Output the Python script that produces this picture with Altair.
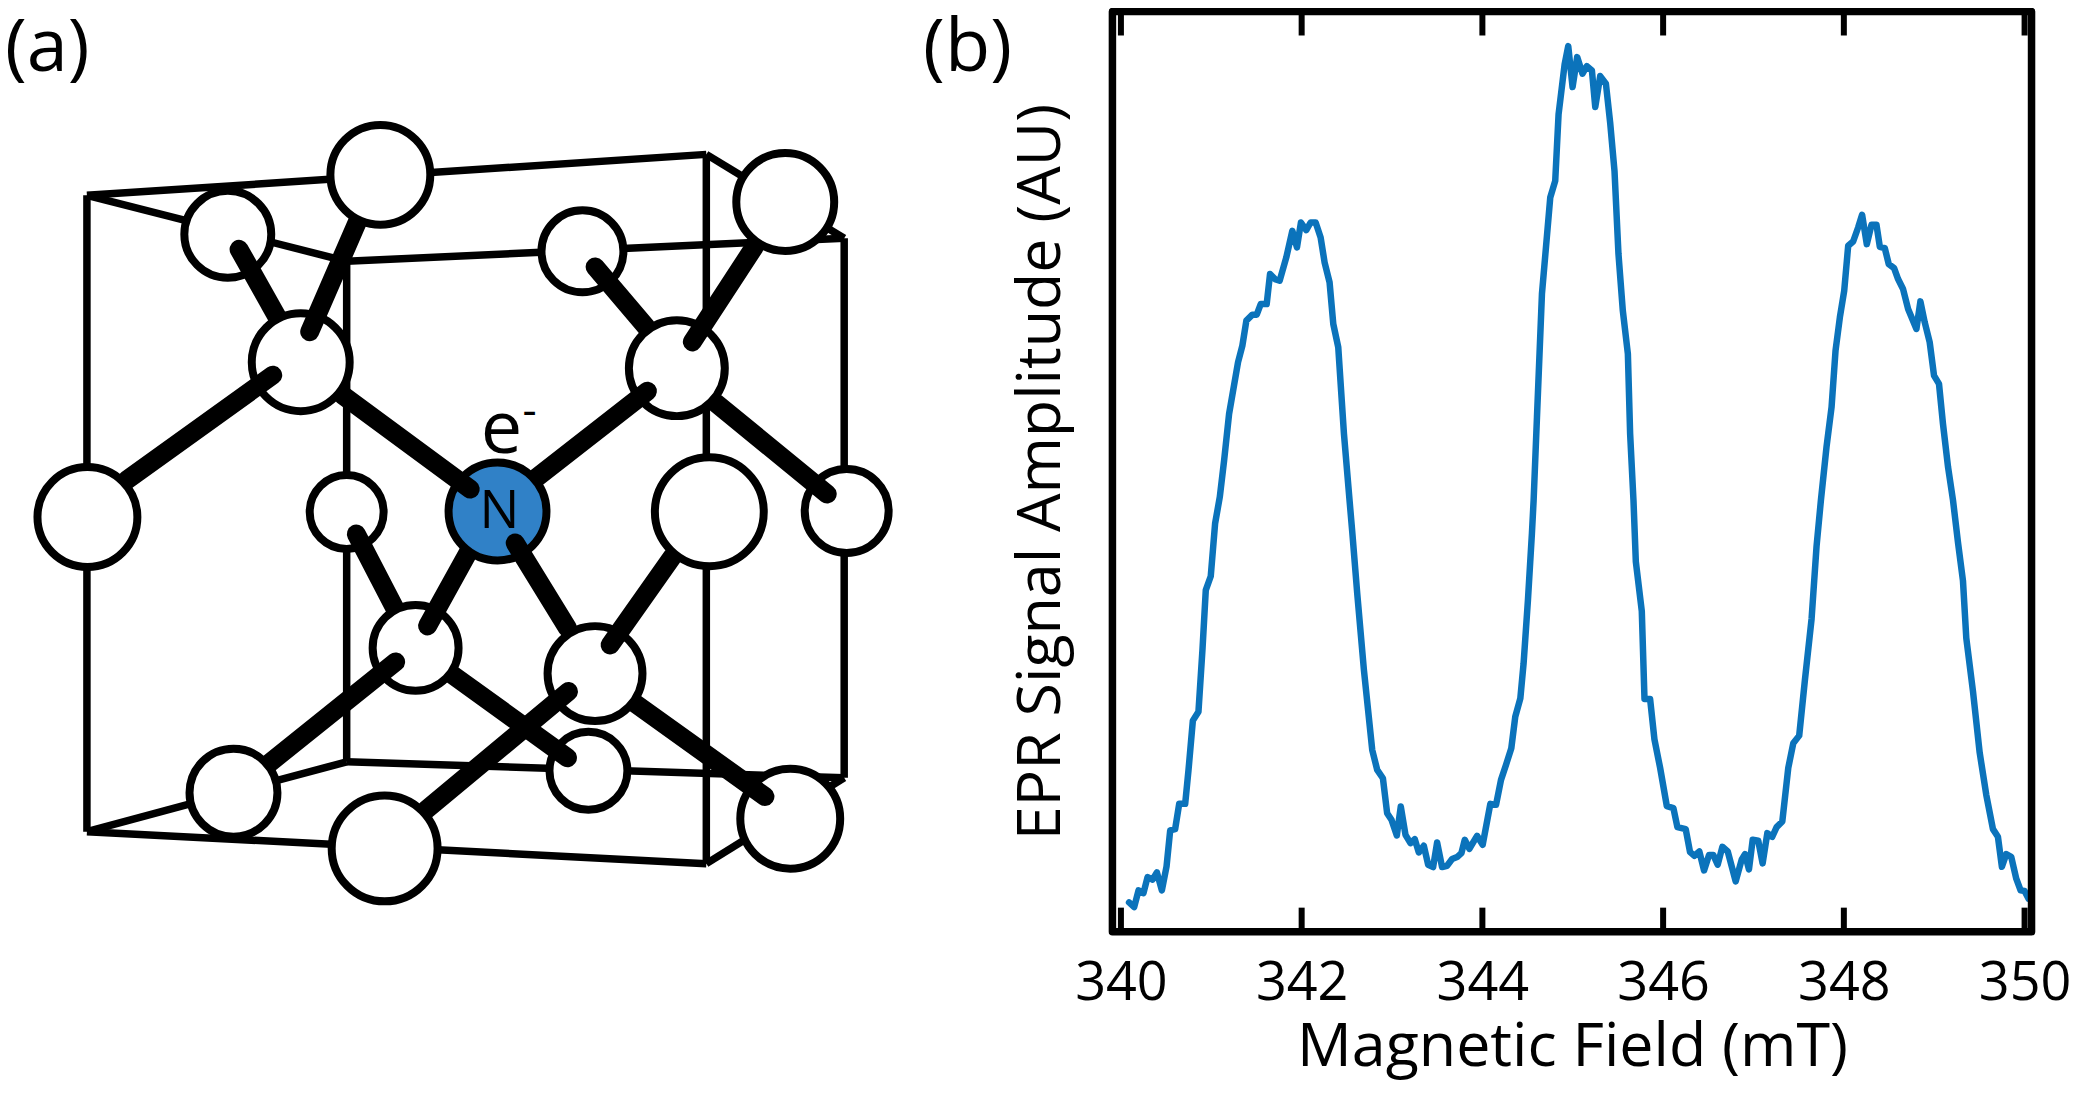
import altair as alt
import pandas as pd

# ---------- panel (b): EPR spectrum ----------
field_mT = [340.09,340.147,340.195,340.25,340.295,340.35,340.398,340.453,340.505,340.545,340.60,340.645,340.711,340.748,340.796,340.858,340.902,340.939,340.994,341.042,
341.094,341.142,341.197,341.296,341.344,341.388,341.455,341.503,341.547,341.613,341.65,341.705,341.757,341.83,341.897,341.948,341.992,342.051,342.099,342.155,342.21,342.254,342.309,342.35,342.405,342.468,342.53,
342.56,342.615,342.689,342.781,342.836,342.899,342.946,342.994,343.053,343.097,343.149,343.204,343.252,343.296,343.352,343.4,343.455,343.499,343.554,343.609,343.665,343.72,343.768,343.805,343.856,343.941,344.003,344.088,344.151,344.206,344.261,344.32,344.364,344.42,344.456,344.504,344.548,
344.567,344.604,344.659,344.751,344.806,344.843,344.91,344.95,344.998,345.049,345.108,345.156,345.212,345.249,345.304,345.367,345.414,345.462,345.506,345.554,345.61,345.635,345.672,
345.698,345.764,345.794,345.856,345.904,345.967,346.041,346.114,346.158,346.25,346.298,346.346,346.401,346.453,346.508,346.556,346.604,346.656,346.715,346.803,346.869,346.906,346.95,346.991,347.053,347.101,347.153,347.208,347.256,347.319,347.385,347.44,347.506,347.569,347.643,347.698,
347.746,347.808,347.864,347.908,347.956,348.004,348.048,348.103,348.158,348.202,348.254,348.306,348.361,348.398,348.453,348.497,348.556,348.6,348.655,348.711,348.803,348.847,348.895,348.95,348.998,349.053,349.097,349.153,349.208,
349.263,349.318,349.355,349.429,349.503,349.576,349.65,349.705,349.749,349.797,349.852,349.908,349.956,350.0,350.044]
amplitude_au = [88,74,124,116,164,156,178,124,196,304,308,384,384,486,634,661,846,1026,1068,1226,
1306,1416,1556,1711,1761,1836,1854,1854,1886,1886,1976,1961,1956,2026,2106,2056,2131,2108,2131,2131,2086,2011,1951,1826,1756,1496,1296,
1201,1016,786,546,486,461,356,336,289,376,291,266,278,238,258,201,194,268,194,198,218,224,236,276,249,288,261,384,381,456,501,551,646,701,806,996,1196,
1296,1546,1916,2206,2256,2456,2606,2661,2538,2628,2578,2601,2588,2478,2571,2548,2431,2286,2036,1866,1736,1496,1296,
1112,963,699,699,578,492,377,371,314,308,239,228,241,184,230,230,201,255,241,151,216,233,187,276,273,205,296,285,314,331,492,566,589,756,940,1158,
1296,1456,1576,1746,1846,1926,2061,2074,2116,2154,2066,2124,2124,2058,2054,2006,1994,1961,1931,1871,1811,1894,1831,1771,1671,1646,1526,1396,1296,
1170,1055,882,722,538,411,308,285,195,233,225,159,124,122,99]
x_ticks = [340, 342, 344, 346, 348, 350]
x_domain = [339.906, 350.077]
y_domain = [0, 2765]

PANEL_H = 921
BLACK = "#000000"
FONT = "Open Sans"

xs = alt.Scale(domain=x_domain, nice=False, zero=False)
ys = alt.Scale(domain=y_domain, nice=False, zero=False)

spec = pd.DataFrame({"field": field_mT, "amp": amplitude_au})
line = alt.Chart(spec).mark_line(color="#0B73BB", strokeWidth=6.5, strokeCap="round", strokeJoin="round", clip=False).encode(
    x=alt.X("field:Q", scale=xs, title="Magnetic Field (mT)",
            axis=alt.Axis(values=x_ticks, ticks=False, domain=False, grid=False, labelFont=FONT, labelFontSize=54,
                          labelColor=BLACK, labelPadding=25, titleFont=FONT, titleFontSize=61, titleFontWeight="normal",
                          titleColor=BLACK, titlePadding=7, format="d", labelFlush=False, labelOverlap=False)),
    y=alt.Y("amp:Q", scale=ys, title="EPR Signal Amplitude (AU)",
            axis=alt.Axis(labels=False, ticks=False, domain=False, grid=False, titleFont=FONT, titleFontSize=61,
                          titleFontWeight="normal", titleColor=BLACK, titlePadding=40)),
)
tick_df = pd.DataFrame({"field": x_ticks})
bottom_ticks = alt.Chart(tick_df).mark_rule(color=BLACK, strokeWidth=6).encode(
    x=alt.X("field:Q", scale=xs), y=alt.value(PANEL_H - 24), y2=alt.value(PANEL_H))
top_ticks = alt.Chart(tick_df).mark_rule(color=BLACK, strokeWidth=6).encode(
    x=alt.X("field:Q", scale=xs), y=alt.value(0), y2=alt.value(24))
frame = alt.Chart(pd.DataFrame({"x0": [x_domain[0]], "x1": [x_domain[1]], "y0": [y_domain[0]], "y1": [y_domain[1]]})).mark_rect(
    fill="transparent", stroke=BLACK, strokeWidth=7.5, strokeJoin="round").encode(
    x=alt.X("x0:Q", scale=xs), x2="x1:Q", y=alt.Y("y0:Q", scale=ys), y2="y1:Q")
panel_b = alt.layer(line, bottom_ticks, top_ticks, frame).properties(width=920, height=PANEL_H)

# ---------- panel (a): lattice schematic ----------
atom_names = ["C2","C6","C10","C5","C13","C14","C8","C7","C11","C15","N","C3","C1","C4","C12","C9","C16"]
atom_x = [228,583,847.5,347,589,791,677.5,786,416,233.7,498,301,380.7,87.5,595.6,710,385]
atom_y = [234,251,511,512,771,819,368,201.6,648,793,511.5,362,174.5,517,673.7,511.7,848.7]
atom_r = [43.5,41,42,37,39,50,48,49,43,44,49,49,50,50,47.5,54.5,53]
atom_fill = ["#3081C7" if n == "N" else "#FFFFFF" for n in atom_names]

bond_from = ["C2","C3","C3","N","C8","C8","C6","C10","N","C12","C5","C11","C11","C13","C12","C14"]
bond_x1 = [239.3,310,273,470.7,648,693,595.7,828,515.7,610.7,356.7,428,396,568,569,765.7]
bond_y1 = [249,331.5,375,489,391,341.7,266.7,494,543,645,534,626,662,758,691.7,796.7]
bond_x2 = [277,358,127,343,536.7,755,646.7,716.7,568,673,395,470,270,453,426.7,635]
bond_y2 = [316,221,480,395,478,246.7,326.7,403,628,556.7,608,550,763,675,810,703]

edge_x1 = [87,87,87,707,347,347,347,845,87,707,87,707]
edge_y1 = [195,195,832,154,261,261,762,238,195,154,832,864]
edge_x2 = [707,87,707,707,845,347,845,845,347,845,347,845]
edge_y2 = [154,832,864,864,238,762,778,778,261,238,762,778]

ax = alt.Scale(domain=[5, 1005], nice=False, zero=False)
ay = alt.Scale(domain=[932, 11], nice=False, zero=False)
X = lambda f: alt.X(f, scale=ax, axis=None)
Y = lambda f: alt.Y(f, scale=ay, axis=None)

edges = alt.Chart(pd.DataFrame({"x": edge_x1, "y": edge_y1, "x2": edge_x2, "y2": edge_y2})).mark_rule(
    color=BLACK, strokeWidth=7.5, strokeCap="butt").encode(x=X("x:Q"), y=Y("y:Q"), x2="x2:Q", y2="y2:Q")

layers = [edges]
for i, name in enumerate(atom_names):
    df = pd.DataFrame({"x": [atom_x[i]], "y": [atom_y[i]], "s": [(2 * atom_r[i]) ** 2]})
    layers.append(alt.Chart(df).mark_point(filled=True, shape="circle", fill=atom_fill[i], stroke=BLACK,
                                           strokeWidth=8, opacity=1).encode(
        x=X("x:Q"), y=Y("y:Q"), size=alt.Size("s:Q", scale=None, legend=None)))
    idx = [j for j, b in enumerate(bond_from) if b == name]
    if idx:
        bdf = pd.DataFrame({"x": [bond_x1[j] for j in idx], "y": [bond_y1[j] for j in idx],
                            "x2": [bond_x2[j] for j in idx], "y2": [bond_y2[j] for j in idx]})
        layers.append(alt.Chart(bdf).mark_rule(color=BLACK, strokeWidth=19, strokeCap="round").encode(
            x=X("x:Q"), y=Y("y:Q"), x2="x2:Q", y2="y2:Q"))

text_items = [("N", 500, 528, 53, "center"), ("e", 502, 453, 74, "center"), ("-", 530, 425, 44, "center"),
              ("(a)", 5, 71, 74, "left"), ("(b)", 924, 71, 74, "left")]
for t, tx, ty, size, al in text_items:
    df = pd.DataFrame({"x": [tx], "y": [ty], "t": [t]})
    layers.append(alt.Chart(df).mark_text(font=FONT, fontSize=size, align=al, baseline="alphabetic", color=BLACK).encode(
        x=X("x:Q"), y=Y("y:Q"), text="t:N"))

panel_a = alt.layer(*layers).properties(width=1000, height=PANEL_H)

chart = alt.hconcat(panel_a, panel_b, spacing=108.5, bounds="flush").properties(
    padding={"left": -3, "top": -1, "right": 0, "bottom": 12}
).configure_view(stroke=None)

chart.save("out.html", embed_options={"renderer": "svg", "actions": False})
